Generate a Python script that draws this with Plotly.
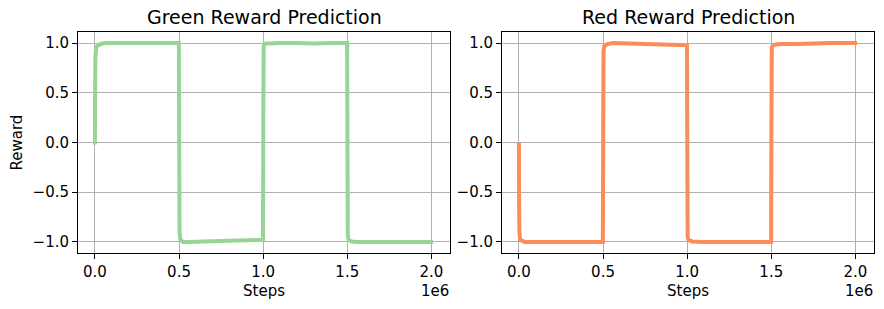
import plotly.graph_objects as go

# Green reward prediction (steps, reward)
green_steps = [0, 1000, 3000, 6000, 10000, 20000, 35000, 60000, 100000, 200000, 300000, 400000, 499000,
               501000, 503000, 508000, 525000, 560000, 650000, 750000, 850000, 950000, 999000,
               1001000, 1003000, 1008000, 1030000, 1100000, 1200000, 1300000, 1400000, 1499000,
               1501000, 1503000, 1508000, 1525000, 1560000, 1650000, 1750000, 1850000, 1950000, 2010000]
green_vals = [-0.02, 0.55, 0.85, 0.93, 0.96, 0.98, 0.99, 1.0, 1.0, 1.0, 1.0, 1.0, 1.0,
              0.0, -0.9, -0.98, -1.0, -1.0, -0.995, -0.99, -0.985, -0.98, -0.98,
              0.3, 0.97, 0.995, 0.995, 1.0, 1.0, 0.995, 1.0, 1.0,
              0.0, -0.93, -0.98, -0.995, -1.0, -1.0, -1.0, -1.0, -1.0, -1.0]

# Red reward prediction (steps, reward)
red_steps = [0, 1000, 3000, 6000, 10000, 20000, 35000, 60000, 100000, 200000, 300000, 400000, 499000,
             501000, 503000, 508000, 525000, 560000, 650000, 750000, 850000, 950000, 999000,
             1001000, 1003000, 1008000, 1030000, 1100000, 1200000, 1300000, 1400000, 1499000,
             1501000, 1503000, 1508000, 1525000, 1560000, 1650000, 1750000, 1850000, 1950000, 2010000]
red_vals = [0.0, -0.6, -0.9, -0.96, -0.98, -0.99, -1.0, -1.0, -1.0, -1.0, -1.0, -1.0, -1.0,
            0.1, 0.93, 0.97, 0.99, 1.0, 0.995, 0.99, 0.985, 0.98, 0.98,
            -0.2, -0.95, -0.98, -0.995, -1.0, -1.0, -1.0, -1.0, -1.0,
            0.2, 0.95, 0.975, 0.985, 0.99, 0.99, 0.995, 1.0, 1.0, 1.0]

x_tickvals = [0, 500000, 1000000, 1500000, 2000000]
x_ticktext = ["0.0", "0.5", "1.0", "1.5", "2.0"]
y_tickvals = [-1.0, -0.5, 0.0, 0.5, 1.0]
y_ticktext = ["\u22121.0", "\u22120.5", "0.0", "0.5", "1.0"]

titles = ["Green Reward Prediction", "Red Reward Prediction"]
colors = ["#98d594", "#fc8d59"]

W, H = 884, 309
FONT = "DejaVu Sans"
TICK = 15
LABEL = 15
TITLE = 19

fig = go.Figure()
fig.add_trace(go.Scatter(x=green_steps, y=green_vals, mode="lines",
                         line=dict(color=colors[0], width=4, simplify=False),
                         xaxis="x", yaxis="y", showlegend=False))
fig.add_trace(go.Scatter(x=red_steps, y=red_vals, mode="lines",
                         line=dict(color=colors[1], width=4, simplify=False),
                         xaxis="x2", yaxis="y2", showlegend=False))

ybot, ytop = (H - 253) / H, (H - 32) / H
doms = [[78 / W, 450 / W], [502 / W, 874 / W]]

axcommon = dict(showline=True, linecolor="black", linewidth=1, mirror=True,
                showgrid=True, gridcolor="#b0b0b0", gridwidth=0.8,
                ticks="outside", ticklen=5, tickcolor="black", tickwidth=1,
                tickfont=dict(family=FONT, size=TICK, color="black"), zeroline=False)

xr = [-100500, 2110500]
yr = [-1.111, 1.111]

fig.update_layout(
    width=W, height=H, margin=dict(l=0, r=0, t=0, b=0),
    paper_bgcolor="white", plot_bgcolor="white",
    font=dict(family=FONT, color="black"),
    xaxis=dict(domain=doms[0], range=xr, tickvals=x_tickvals, ticktext=x_ticktext,
               anchor="y", **axcommon),
    yaxis=dict(domain=[ybot, ytop], range=yr, tickvals=y_tickvals, ticktext=y_ticktext,
               anchor="x", **axcommon),
    xaxis2=dict(domain=doms[1], range=xr, tickvals=x_tickvals, ticktext=x_ticktext,
                anchor="y2", **axcommon),
    yaxis2=dict(domain=[ybot, ytop], range=yr, tickvals=y_tickvals, ticktext=y_ticktext,
                anchor="x2", **axcommon),
)

ann = []
for i, d in enumerate(doms):
    cx = (d[0] + d[1]) / 2
    ann.append(dict(text=titles[i], x=cx, y=(H - 17) / H, xref="paper", yref="paper",
                    showarrow=False, xanchor="center", yanchor="middle",
                    font=dict(family=FONT, size=TITLE, color="black")))
    ann.append(dict(text="Steps", x=cx, y=(H - 291) / H, xref="paper", yref="paper",
                    showarrow=False, xanchor="center", yanchor="middle",
                    font=dict(family=FONT, size=LABEL, color="black")))
    ann.append(dict(text="1e6", x=d[1] + 1 / W, y=(H - 291) / H, xref="paper", yref="paper",
                    showarrow=False, xanchor="right", yanchor="middle",
                    font=dict(family=FONT, size=TICK, color="black")))
ann.append(dict(text="Reward", x=16 / W, y=(ybot + ytop) / 2, xref="paper", yref="paper",
                showarrow=False, xanchor="center", yanchor="middle", textangle=-90,
                font=dict(family=FONT, size=LABEL, color="black")))
fig.update_layout(annotations=ann)

fig.write_html("out.html", config={"displayModeBar": False},
               post_script="document.body.style.margin='0';document.body.style.padding='0';")
